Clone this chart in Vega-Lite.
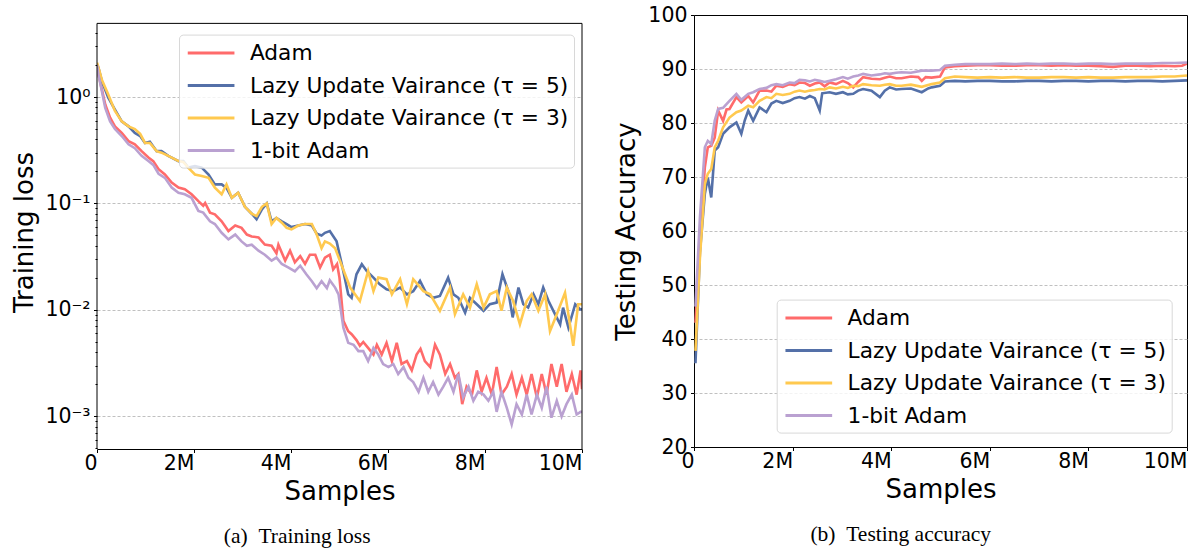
{
  "$schema": "https://vega.github.io/schema/vega-lite/v6.json",
  "padding": {"left": 11, "top": 4, "right": 0, "bottom": 0},
  "bounds": "flush",
  "spacing": 112,
  "resolve": {"scale": {"color": "independent"}, "legend": {"color": "independent"}},
  "config": {
    "font": "DejaVu Sans",
    "axis": {"labelFont": "DejaVu Sans", "labelFontSize": 20.5, "labelColor": "#000", "titleFont": "DejaVu Sans", "titleFontSize": 26, "titleFontWeight": "normal", "titleColor": "#000", "tickColor": "#000", "tickSize": 3.5, "tickWidth": 1, "labelPadding": 3.5, "domainColor": "#000", "domainWidth": 1, "gridColor": "#b0b0b0", "gridDash": [3, 2], "gridWidth": 0.8, "labelOverlap": false, "labelFlush": false},
    "legend": {"labelFont": "DejaVu Sans", "labelFontSize": 21.7, "labelColor": "#000", "labelLimit": 500, "symbolType": "M-2,0H2", "symbolSize": 545, "symbolStrokeWidth": 3, "symbolOffset": 13.6, "labelOffset": 25.3, "rowPadding": 6.5, "padding": 5, "fillColor": "rgba(255,255,255,0.8)", "strokeColor": "#d8d8d8", "cornerRadius": 4, "title": null},
    "title": {"font": "Liberation Serif", "fontSize": 21.5, "fontWeight": "normal", "color": "#000", "frame": "bounds"}
  },
  "datasets": {
    "loss": [
      {"m":"Adam","s":0,"v":2.0},{"m":"Adam","s":0.03,"v":1.63},{"m":"Adam","s":0.1,"v":1.18},{"m":"Adam","s":0.17,"v":0.85},{"m":"Adam","s":0.27,"v":0.64},{"m":"Adam","s":0.37,"v":0.53},{"m":"Adam","s":0.51,"v":0.46},{"m":"Adam","s":0.65,"v":0.385},{"m":"Adam","s":0.78,"v":0.36},{"m":"Adam","s":0.92,"v":0.31},{"m":"Adam","s":1.06,"v":0.27},{"m":"Adam","s":1.16,"v":0.25},{"m":"Adam","s":1.27,"v":0.21},{"m":"Adam","s":1.4,"v":0.187},{"m":"Adam","s":1.54,"v":0.157},{"m":"Adam","s":1.68,"v":0.141},{"m":"Adam","s":1.81,"v":0.136},{"m":"Adam","s":1.95,"v":0.122},{"m":"Adam","s":2.09,"v":0.105},{"m":"Adam","s":2.19,"v":0.095},{"m":"Adam","s":2.23,"v":0.101},{"m":"Adam","s":2.33,"v":0.082},{"m":"Adam","s":2.43,"v":0.079},{"m":"Adam","s":2.57,"v":0.068},{"m":"Adam","s":2.71,"v":0.055},{"m":"Adam","s":2.85,"v":0.062},{"m":"Adam","s":2.98,"v":0.059},{"m":"Adam","s":3.09,"v":0.051},{"m":"Adam","s":3.19,"v":0.049},{"m":"Adam","s":3.33,"v":0.048},{"m":"Adam","s":3.46,"v":0.041},{"m":"Adam","s":3.6,"v":0.04},{"m":"Adam","s":3.7,"v":0.034},{"m":"Adam","s":3.74,"v":0.041},{"m":"Adam","s":3.88,"v":0.029},{"m":"Adam","s":3.98,"v":0.036},{"m":"Adam","s":4.08,"v":0.028},{"m":"Adam","s":4.19,"v":0.032},{"m":"Adam","s":4.29,"v":0.027},{"m":"Adam","s":4.39,"v":0.033},{"m":"Adam","s":4.5,"v":0.033},{"m":"Adam","s":4.6,"v":0.025},{"m":"Adam","s":4.7,"v":0.031},{"m":"Adam","s":4.8,"v":0.033},{"m":"Adam","s":4.87,"v":0.024},{"m":"Adam","s":4.95,"v":0.027},{"m":"Adam","s":5.0,"v":0.02},{"m":"Adam","s":5.08,"v":0.0079},{"m":"Adam","s":5.18,"v":0.0063},{"m":"Adam","s":5.25,"v":0.0059},{"m":"Adam","s":5.35,"v":0.0052},{"m":"Adam","s":5.42,"v":0.0046},{"m":"Adam","s":5.49,"v":0.005},{"m":"Adam","s":5.59,"v":0.0044},{"m":"Adam","s":5.7,"v":0.0038},{"m":"Adam","s":5.77,"v":0.0047},{"m":"Adam","s":5.87,"v":0.0038},{"m":"Adam","s":5.97,"v":0.0049},{"m":"Adam","s":6.08,"v":0.0033},{"m":"Adam","s":6.18,"v":0.0049},{"m":"Adam","s":6.28,"v":0.0031},{"m":"Adam","s":6.39,"v":0.0033},{"m":"Adam","s":6.49,"v":0.0027},{"m":"Adam","s":6.59,"v":0.0038},{"m":"Adam","s":6.67,"v":0.0043},{"m":"Adam","s":6.76,"v":0.0033},{"m":"Adam","s":6.87,"v":0.0029},{"m":"Adam","s":6.97,"v":0.0047},{"m":"Adam","s":7.07,"v":0.0038},{"m":"Adam","s":7.18,"v":0.0025},{"m":"Adam","s":7.28,"v":0.0031},{"m":"Adam","s":7.38,"v":0.0023},{"m":"Adam","s":7.45,"v":0.0025},{"m":"Adam","s":7.53,"v":0.0013},{"m":"Adam","s":7.62,"v":0.0019},{"m":"Adam","s":7.73,"v":0.0016},{"m":"Adam","s":7.83,"v":0.0027},{"m":"Adam","s":7.93,"v":0.0017},{"m":"Adam","s":8.03,"v":0.0023},{"m":"Adam","s":8.14,"v":0.0016},{"m":"Adam","s":8.24,"v":0.0029},{"m":"Adam","s":8.34,"v":0.0016},{"m":"Adam","s":8.45,"v":0.0019},{"m":"Adam","s":8.55,"v":0.0025},{"m":"Adam","s":8.65,"v":0.0016},{"m":"Adam","s":8.76,"v":0.0023},{"m":"Adam","s":8.86,"v":0.0016},{"m":"Adam","s":8.96,"v":0.0025},{"m":"Adam","s":9.07,"v":0.0015},{"m":"Adam","s":9.17,"v":0.0025},{"m":"Adam","s":9.27,"v":0.0016},{"m":"Adam","s":9.37,"v":0.0031},{"m":"Adam","s":9.48,"v":0.0019},{"m":"Adam","s":9.58,"v":0.0031},{"m":"Adam","s":9.68,"v":0.0017},{"m":"Adam","s":9.79,"v":0.0025},{"m":"Adam","s":9.89,"v":0.0016},{"m":"Adam","s":9.97,"v":0.0027},{"m":"Adam","s":10,"v":0.0018},
      {"m":"t5","s":0,"v":2.0},{"m":"t5","s":0.03,"v":1.88},{"m":"t5","s":0.1,"v":1.41},{"m":"t5","s":0.23,"v":0.99},{"m":"t5","s":0.37,"v":0.76},{"m":"t5","s":0.51,"v":0.59},{"m":"t5","s":0.65,"v":0.53},{"m":"t5","s":0.78,"v":0.46},{"m":"t5","s":0.89,"v":0.43},{"m":"t5","s":0.99,"v":0.37},{"m":"t5","s":1.09,"v":0.38},{"m":"t5","s":1.23,"v":0.31},{"m":"t5","s":1.33,"v":0.31},{"m":"t5","s":1.47,"v":0.28},{"m":"t5","s":1.68,"v":0.25},{"m":"t5","s":1.78,"v":0.25},{"m":"t5","s":1.88,"v":0.217},{"m":"t5","s":2.02,"v":0.224},{"m":"t5","s":2.16,"v":0.217},{"m":"t5","s":2.3,"v":0.187},{"m":"t5","s":2.43,"v":0.151},{"m":"t5","s":2.57,"v":0.151},{"m":"t5","s":2.67,"v":0.14},{"m":"t5","s":2.78,"v":0.113},{"m":"t5","s":2.91,"v":0.126},{"m":"t5","s":3.05,"v":0.093},{"m":"t5","s":3.19,"v":0.08},{"m":"t5","s":3.29,"v":0.071},{"m":"t5","s":3.4,"v":0.088},{"m":"t5","s":3.5,"v":0.1},{"m":"t5","s":3.6,"v":0.068},{"m":"t5","s":3.7,"v":0.073},{"m":"t5","s":3.81,"v":0.068},{"m":"t5","s":3.91,"v":0.064},{"m":"t5","s":4.01,"v":0.06},{"m":"t5","s":4.15,"v":0.062},{"m":"t5","s":4.29,"v":0.064},{"m":"t5","s":4.43,"v":0.062},{"m":"t5","s":4.53,"v":0.052},{"m":"t5","s":4.63,"v":0.05},{"m":"t5","s":4.7,"v":0.053},{"m":"t5","s":4.8,"v":0.055},{"m":"t5","s":4.94,"v":0.044},{"m":"t5","s":5.08,"v":0.023},{"m":"t5","s":5.18,"v":0.014},{"m":"t5","s":5.25,"v":0.013},{"m":"t5","s":5.35,"v":0.0216},{"m":"t5","s":5.46,"v":0.0268},{"m":"t5","s":5.56,"v":0.0232},{"m":"t5","s":5.7,"v":0.0201},{"m":"t5","s":5.83,"v":0.0174},{"m":"t5","s":5.97,"v":0.0156},{"m":"t5","s":6.11,"v":0.015},{"m":"t5","s":6.25,"v":0.0162},{"m":"t5","s":6.39,"v":0.014},{"m":"t5","s":6.52,"v":0.015},{"m":"t5","s":6.66,"v":0.0187},{"m":"t5","s":6.8,"v":0.014},{"m":"t5","s":6.93,"v":0.013},{"m":"t5","s":7.07,"v":0.0135},{"m":"t5","s":7.24,"v":0.0201},{"m":"t5","s":7.35,"v":0.014},{"m":"t5","s":7.45,"v":0.013},{"m":"t5","s":7.59,"v":0.0094},{"m":"t5","s":7.69,"v":0.013},{"m":"t5","s":7.83,"v":0.0113},{"m":"t5","s":7.97,"v":0.0098},{"m":"t5","s":8.1,"v":0.0113},{"m":"t5","s":8.24,"v":0.0117},{"m":"t5","s":8.36,"v":0.0216},{"m":"t5","s":8.48,"v":0.015},{"m":"t5","s":8.57,"v":0.0085},{"m":"t5","s":8.69,"v":0.0162},{"m":"t5","s":8.79,"v":0.0113},{"m":"t5","s":8.89,"v":0.0105},{"m":"t5","s":9.0,"v":0.014},{"m":"t5","s":9.1,"v":0.0113},{"m":"t5","s":9.2,"v":0.0162},{"m":"t5","s":9.31,"v":0.0121},{"m":"t5","s":9.41,"v":0.0098},{"m":"t5","s":9.55,"v":0.0073},{"m":"t5","s":9.61,"v":0.0105},{"m":"t5","s":9.72,"v":0.0068},{"m":"t5","s":9.86,"v":0.0113},{"m":"t5","s":9.96,"v":0.0101},{"m":"t5","s":10,"v":0.0101},
      {"m":"t3","s":0,"v":2.1},{"m":"t3","s":0.03,"v":1.9},{"m":"t3","s":0.1,"v":1.45},{"m":"t3","s":0.23,"v":1.06},{"m":"t3","s":0.37,"v":0.74},{"m":"t3","s":0.51,"v":0.59},{"m":"t3","s":0.65,"v":0.53},{"m":"t3","s":0.78,"v":0.5},{"m":"t3","s":0.89,"v":0.45},{"m":"t3","s":0.99,"v":0.37},{"m":"t3","s":1.09,"v":0.37},{"m":"t3","s":1.23,"v":0.31},{"m":"t3","s":1.33,"v":0.3},{"m":"t3","s":1.47,"v":0.28},{"m":"t3","s":1.68,"v":0.25},{"m":"t3","s":1.78,"v":0.245},{"m":"t3","s":1.88,"v":0.217},{"m":"t3","s":2.02,"v":0.187},{"m":"t3","s":2.16,"v":0.181},{"m":"t3","s":2.3,"v":0.174},{"m":"t3","s":2.43,"v":0.141},{"m":"t3","s":2.57,"v":0.122},{"m":"t3","s":2.67,"v":0.151},{"m":"t3","s":2.78,"v":0.113},{"m":"t3","s":2.91,"v":0.126},{"m":"t3","s":3.05,"v":0.093},{"m":"t3","s":3.19,"v":0.08},{"m":"t3","s":3.29,"v":0.076},{"m":"t3","s":3.4,"v":0.093},{"m":"t3","s":3.5,"v":0.1},{"m":"t3","s":3.6,"v":0.064},{"m":"t3","s":3.7,"v":0.073},{"m":"t3","s":3.81,"v":0.066},{"m":"t3","s":3.91,"v":0.059},{"m":"t3","s":4.01,"v":0.057},{"m":"t3","s":4.15,"v":0.062},{"m":"t3","s":4.29,"v":0.064},{"m":"t3","s":4.43,"v":0.064},{"m":"t3","s":4.53,"v":0.051},{"m":"t3","s":4.63,"v":0.038},{"m":"t3","s":4.7,"v":0.044},{"m":"t3","s":4.8,"v":0.042},{"m":"t3","s":4.91,"v":0.038},{"m":"t3","s":5.01,"v":0.0288},{"m":"t3","s":5.22,"v":0.0162},{"m":"t3","s":5.42,"v":0.0121},{"m":"t3","s":5.59,"v":0.0232},{"m":"t3","s":5.7,"v":0.015},{"m":"t3","s":5.8,"v":0.0201},{"m":"t3","s":5.97,"v":0.0194},{"m":"t3","s":6.08,"v":0.014},{"m":"t3","s":6.25,"v":0.0194},{"m":"t3","s":6.39,"v":0.0113},{"m":"t3","s":6.52,"v":0.0194},{"m":"t3","s":6.73,"v":0.015},{"m":"t3","s":6.87,"v":0.014},{"m":"t3","s":7.07,"v":0.0098},{"m":"t3","s":7.28,"v":0.0162},{"m":"t3","s":7.38,"v":0.0091},{"m":"t3","s":7.55,"v":0.014},{"m":"t3","s":7.69,"v":0.0105},{"m":"t3","s":7.83,"v":0.0174},{"m":"t3","s":7.97,"v":0.0105},{"m":"t3","s":8.1,"v":0.014},{"m":"t3","s":8.24,"v":0.015},{"m":"t3","s":8.34,"v":0.0098},{"m":"t3","s":8.45,"v":0.0162},{"m":"t3","s":8.58,"v":0.0121},{"m":"t3","s":8.72,"v":0.0073},{"m":"t3","s":8.86,"v":0.0121},{"m":"t3","s":8.96,"v":0.014},{"m":"t3","s":9.1,"v":0.0098},{"m":"t3","s":9.24,"v":0.014},{"m":"t3","s":9.34,"v":0.0063},{"m":"t3","s":9.48,"v":0.0091},{"m":"t3","s":9.65,"v":0.0145},{"m":"t3","s":9.82,"v":0.0046},{"m":"t3","s":9.92,"v":0.0113},{"m":"t3","s":10,"v":0.0113},
      {"m":"1bit","s":0,"v":2.0},{"m":"1bit","s":0.03,"v":1.63},{"m":"1bit","s":0.1,"v":1.14},{"m":"1bit","s":0.17,"v":0.79},{"m":"1bit","s":0.27,"v":0.59},{"m":"1bit","s":0.37,"v":0.5},{"m":"1bit","s":0.51,"v":0.43},{"m":"1bit","s":0.65,"v":0.36},{"m":"1bit","s":0.78,"v":0.33},{"m":"1bit","s":0.92,"v":0.28},{"m":"1bit","s":1.06,"v":0.25},{"m":"1bit","s":1.16,"v":0.23},{"m":"1bit","s":1.27,"v":0.19},{"m":"1bit","s":1.4,"v":0.174},{"m":"1bit","s":1.54,"v":0.141},{"m":"1bit","s":1.68,"v":0.126},{"m":"1bit","s":1.81,"v":0.122},{"m":"1bit","s":1.95,"v":0.113},{"m":"1bit","s":2.09,"v":0.085},{"m":"1bit","s":2.19,"v":0.082},{"m":"1bit","s":2.33,"v":0.068},{"m":"1bit","s":2.43,"v":0.064},{"m":"1bit","s":2.57,"v":0.053},{"m":"1bit","s":2.71,"v":0.046},{"m":"1bit","s":2.85,"v":0.051},{"m":"1bit","s":2.98,"v":0.044},{"m":"1bit","s":3.09,"v":0.04},{"m":"1bit","s":3.19,"v":0.041},{"m":"1bit","s":3.33,"v":0.036},{"m":"1bit","s":3.46,"v":0.033},{"m":"1bit","s":3.6,"v":0.029},{"m":"1bit","s":3.7,"v":0.031},{"m":"1bit","s":3.81,"v":0.027},{"m":"1bit","s":3.95,"v":0.025},{"m":"1bit","s":4.08,"v":0.023},{"m":"1bit","s":4.19,"v":0.026},{"m":"1bit","s":4.32,"v":0.0215},{"m":"1bit","s":4.43,"v":0.0186},{"m":"1bit","s":4.53,"v":0.016},{"m":"1bit","s":4.63,"v":0.0186},{"m":"1bit","s":4.74,"v":0.016},{"m":"1bit","s":4.8,"v":0.019},{"m":"1bit","s":4.91,"v":0.0162},{"m":"1bit","s":4.98,"v":0.014},{"m":"1bit","s":5.08,"v":0.0068},{"m":"1bit","s":5.18,"v":0.0049},{"m":"1bit","s":5.29,"v":0.0047},{"m":"1bit","s":5.39,"v":0.0041},{"m":"1bit","s":5.49,"v":0.0041},{"m":"1bit","s":5.59,"v":0.0033},{"m":"1bit","s":5.7,"v":0.0044},{"m":"1bit","s":5.8,"v":0.0038},{"m":"1bit","s":5.9,"v":0.0031},{"m":"1bit","s":6.01,"v":0.0029},{"m":"1bit","s":6.11,"v":0.0031},{"m":"1bit","s":6.21,"v":0.0025},{"m":"1bit","s":6.32,"v":0.0029},{"m":"1bit","s":6.42,"v":0.0023},{"m":"1bit","s":6.52,"v":0.0021},{"m":"1bit","s":6.63,"v":0.0017},{"m":"1bit","s":6.73,"v":0.0023},{"m":"1bit","s":6.83,"v":0.0017},{"m":"1bit","s":6.93,"v":0.0021},{"m":"1bit","s":7.04,"v":0.0016},{"m":"1bit","s":7.14,"v":0.0019},{"m":"1bit","s":7.24,"v":0.0023},{"m":"1bit","s":7.35,"v":0.0017},{"m":"1bit","s":7.45,"v":0.0025},{"m":"1bit","s":7.55,"v":0.0015},{"m":"1bit","s":7.66,"v":0.0019},{"m":"1bit","s":7.76,"v":0.0014},{"m":"1bit","s":7.86,"v":0.0017},{"m":"1bit","s":7.97,"v":0.0016},{"m":"1bit","s":8.07,"v":0.0014},{"m":"1bit","s":8.17,"v":0.0017},{"m":"1bit","s":8.24,"v":0.0011},{"m":"1bit","s":8.34,"v":0.0017},{"m":"1bit","s":8.45,"v":0.0012},{"m":"1bit","s":8.55,"v":0.00084},{"m":"1bit","s":8.65,"v":0.0013},{"m":"1bit","s":8.76,"v":0.00104},{"m":"1bit","s":8.86,"v":0.0016},{"m":"1bit","s":8.96,"v":0.00104},{"m":"1bit","s":9.07,"v":0.0016},{"m":"1bit","s":9.17,"v":0.0012},{"m":"1bit","s":9.27,"v":0.0019},{"m":"1bit","s":9.37,"v":0.00097},{"m":"1bit","s":9.48,"v":0.0014},{"m":"1bit","s":9.58,"v":0.001},{"m":"1bit","s":9.68,"v":0.0013},{"m":"1bit","s":9.79,"v":0.0016},{"m":"1bit","s":9.89,"v":0.00104},{"m":"1bit","s":9.97,"v":0.0011},{"m":"1bit","s":10,"v":0.0011}
    ],
    "acc": [
      {"m":"Adam","s":0.03,"v":43},{"m":"Adam","s":0.12,"v":58.8},{"m":"Adam","s":0.22,"v":71.8},{"m":"Adam","s":0.28,"v":75.5},{"m":"Adam","s":0.35,"v":75.8},{"m":"Adam","s":0.42,"v":77.3},{"m":"Adam","s":0.49,"v":82.3},{"m":"Adam","s":0.59,"v":80.4},{"m":"Adam","s":0.66,"v":82.5},{"m":"Adam","s":0.72,"v":82.6},{"m":"Adam","s":0.86,"v":84.8},{"m":"Adam","s":0.96,"v":83.8},{"m":"Adam","s":1.1,"v":85},{"m":"Adam","s":1.2,"v":83.8},{"m":"Adam","s":1.33,"v":86},{"m":"Adam","s":1.47,"v":86},{"m":"Adam","s":1.57,"v":85.8},{"m":"Adam","s":1.67,"v":86.9},{"m":"Adam","s":1.8,"v":86.7},{"m":"Adam","s":1.94,"v":87.2},{"m":"Adam","s":2.04,"v":87},{"m":"Adam","s":2.14,"v":87.5},{"m":"Adam","s":2.25,"v":87.4},{"m":"Adam","s":2.35,"v":86.9},{"m":"Adam","s":2.45,"v":87.3},{"m":"Adam","s":2.55,"v":87.5},{"m":"Adam","s":2.65,"v":86.8},{"m":"Adam","s":2.75,"v":87.5},{"m":"Adam","s":2.88,"v":87.2},{"m":"Adam","s":3.02,"v":87.8},{"m":"Adam","s":3.12,"v":87.4},{"m":"Adam","s":3.23,"v":86.6},{"m":"Adam","s":3.33,"v":87.6},{"m":"Adam","s":3.43,"v":88.5},{"m":"Adam","s":3.6,"v":88.2},{"m":"Adam","s":3.77,"v":88.1},{"m":"Adam","s":3.87,"v":88.4},{"m":"Adam","s":3.97,"v":88.6},{"m":"Adam","s":4.1,"v":88.3},{"m":"Adam","s":4.21,"v":88.3},{"m":"Adam","s":4.4,"v":88.6},{"m":"Adam","s":4.55,"v":88.5},{"m":"Adam","s":4.62,"v":87.8},{"m":"Adam","s":4.7,"v":88.5},{"m":"Adam","s":4.82,"v":88.4},{"m":"Adam","s":4.99,"v":88.6},{"m":"Adam","s":5.09,"v":90.3},{"m":"Adam","s":5.29,"v":90.5},{"m":"Adam","s":5.5,"v":90.6},{"m":"Adam","s":5.75,"v":90.7},{"m":"Adam","s":6,"v":90.7},{"m":"Adam","s":6.25,"v":90.6},{"m":"Adam","s":6.5,"v":90.6},{"m":"Adam","s":6.75,"v":90.7},{"m":"Adam","s":7,"v":90.7},{"m":"Adam","s":7.25,"v":90.6},{"m":"Adam","s":7.5,"v":90.7},{"m":"Adam","s":7.75,"v":90.6},{"m":"Adam","s":8,"v":90.6},{"m":"Adam","s":8.25,"v":90.5},{"m":"Adam","s":8.5,"v":90.4},{"m":"Adam","s":8.75,"v":90.6},{"m":"Adam","s":9,"v":90.6},{"m":"Adam","s":9.25,"v":90.5},{"m":"Adam","s":9.5,"v":90.6},{"m":"Adam","s":9.75,"v":90.5},{"m":"Adam","s":9.9,"v":90.6},{"m":"Adam","s":10,"v":91},
      {"m":"t5","s":0.03,"v":35.5},{"m":"t5","s":0.12,"v":56},{"m":"t5","s":0.22,"v":66.9},{"m":"t5","s":0.28,"v":69.9},{"m":"t5","s":0.35,"v":66.2},{"m":"t5","s":0.42,"v":74.9},{"m":"t5","s":0.49,"v":75.5},{"m":"t5","s":0.59,"v":78},{"m":"t5","s":0.72,"v":79.2},{"m":"t5","s":0.86,"v":80.1},{"m":"t5","s":0.96,"v":78},{"m":"t5","s":1.03,"v":80.5},{"m":"t5","s":1.1,"v":82.3},{"m":"t5","s":1.2,"v":80.4},{"m":"t5","s":1.33,"v":82.9},{"m":"t5","s":1.47,"v":82},{"m":"t5","s":1.57,"v":83.6},{"m":"t5","s":1.67,"v":84.1},{"m":"t5","s":1.8,"v":83.7},{"m":"t5","s":1.94,"v":84.1},{"m":"t5","s":2.04,"v":84.6},{"m":"t5","s":2.14,"v":84.8},{"m":"t5","s":2.25,"v":84.5},{"m":"t5","s":2.35,"v":85},{"m":"t5","s":2.45,"v":84.6},{"m":"t5","s":2.55,"v":82.3},{"m":"t5","s":2.6,"v":85.5},{"m":"t5","s":2.75,"v":85.7},{"m":"t5","s":2.88,"v":85.4},{"m":"t5","s":3.02,"v":85.7},{"m":"t5","s":3.12,"v":85.3},{"m":"t5","s":3.23,"v":85.4},{"m":"t5","s":3.33,"v":86},{"m":"t5","s":3.43,"v":86.3},{"m":"t5","s":3.6,"v":86},{"m":"t5","s":3.77,"v":84.8},{"m":"t5","s":3.87,"v":86},{"m":"t5","s":3.97,"v":86.6},{"m":"t5","s":4.1,"v":86.2},{"m":"t5","s":4.21,"v":86.3},{"m":"t5","s":4.4,"v":86.4},{"m":"t5","s":4.62,"v":85.7},{"m":"t5","s":4.75,"v":86.4},{"m":"t5","s":4.82,"v":86.6},{"m":"t5","s":4.99,"v":86.9},{"m":"t5","s":5.09,"v":87.7},{"m":"t5","s":5.29,"v":87.8},{"m":"t5","s":5.5,"v":87.7},{"m":"t5","s":5.75,"v":87.8},{"m":"t5","s":6,"v":87.8},{"m":"t5","s":6.25,"v":87.7},{"m":"t5","s":6.5,"v":87.7},{"m":"t5","s":6.75,"v":87.8},{"m":"t5","s":7,"v":87.8},{"m":"t5","s":7.25,"v":87.7},{"m":"t5","s":7.5,"v":87.8},{"m":"t5","s":7.75,"v":87.8},{"m":"t5","s":8,"v":87.7},{"m":"t5","s":8.25,"v":87.8},{"m":"t5","s":8.5,"v":87.8},{"m":"t5","s":8.75,"v":87.7},{"m":"t5","s":9,"v":87.8},{"m":"t5","s":9.25,"v":87.8},{"m":"t5","s":9.5,"v":87.7},{"m":"t5","s":9.75,"v":87.8},{"m":"t5","s":10,"v":87.9},
      {"m":"t3","s":0.03,"v":37.8},{"m":"t3","s":0.12,"v":55},{"m":"t3","s":0.22,"v":68.7},{"m":"t3","s":0.28,"v":70.6},{"m":"t3","s":0.35,"v":71.5},{"m":"t3","s":0.42,"v":75.5},{"m":"t3","s":0.49,"v":76.7},{"m":"t3","s":0.59,"v":79.2},{"m":"t3","s":0.72,"v":81},{"m":"t3","s":0.86,"v":82},{"m":"t3","s":0.96,"v":82.3},{"m":"t3","s":1.1,"v":83.2},{"m":"t3","s":1.2,"v":82.9},{"m":"t3","s":1.33,"v":84.1},{"m":"t3","s":1.47,"v":84.8},{"m":"t3","s":1.57,"v":84.6},{"m":"t3","s":1.67,"v":85.4},{"m":"t3","s":1.8,"v":85.2},{"m":"t3","s":1.94,"v":85.4},{"m":"t3","s":2.04,"v":85.8},{"m":"t3","s":2.14,"v":86},{"m":"t3","s":2.25,"v":85.8},{"m":"t3","s":2.35,"v":86},{"m":"t3","s":2.45,"v":86.1},{"m":"t3","s":2.55,"v":86.3},{"m":"t3","s":2.65,"v":86.2},{"m":"t3","s":2.75,"v":86.6},{"m":"t3","s":2.88,"v":86.4},{"m":"t3","s":3.02,"v":86.7},{"m":"t3","s":3.12,"v":86.5},{"m":"t3","s":3.23,"v":86.9},{"m":"t3","s":3.33,"v":86.8},{"m":"t3","s":3.43,"v":87.2},{"m":"t3","s":3.6,"v":87},{"m":"t3","s":3.77,"v":86.9},{"m":"t3","s":3.87,"v":87.1},{"m":"t3","s":3.97,"v":87.2},{"m":"t3","s":4.1,"v":86.9},{"m":"t3","s":4.21,"v":86.9},{"m":"t3","s":4.4,"v":87.1},{"m":"t3","s":4.62,"v":86.7},{"m":"t3","s":4.82,"v":87.2},{"m":"t3","s":4.99,"v":87.5},{"m":"t3","s":5.09,"v":88.3},{"m":"t3","s":5.29,"v":88.6},{"m":"t3","s":5.5,"v":88.5},{"m":"t3","s":5.75,"v":88.4},{"m":"t3","s":6,"v":88.5},{"m":"t3","s":6.25,"v":88.4},{"m":"t3","s":6.5,"v":88.5},{"m":"t3","s":6.75,"v":88.4},{"m":"t3","s":7,"v":88.4},{"m":"t3","s":7.25,"v":88.5},{"m":"t3","s":7.5,"v":88.5},{"m":"t3","s":7.75,"v":88.4},{"m":"t3","s":8,"v":88.5},{"m":"t3","s":8.25,"v":88.4},{"m":"t3","s":8.5,"v":88.4},{"m":"t3","s":8.75,"v":88.5},{"m":"t3","s":9,"v":88.5},{"m":"t3","s":9.25,"v":88.5},{"m":"t3","s":9.5,"v":88.6},{"m":"t3","s":9.75,"v":88.6},{"m":"t3","s":10,"v":88.8},
      {"m":"1bit","s":0.03,"v":46},{"m":"1bit","s":0.12,"v":62.5},{"m":"1bit","s":0.22,"v":75.5},{"m":"1bit","s":0.28,"v":76.7},{"m":"1bit","s":0.35,"v":76.1},{"m":"1bit","s":0.42,"v":80.4},{"m":"1bit","s":0.49,"v":82.6},{"m":"1bit","s":0.59,"v":82.8},{"m":"1bit","s":0.72,"v":84.1},{"m":"1bit","s":0.86,"v":85.4},{"m":"1bit","s":0.96,"v":84.3},{"m":"1bit","s":1.1,"v":85.4},{"m":"1bit","s":1.2,"v":85.7},{"m":"1bit","s":1.33,"v":86.3},{"m":"1bit","s":1.47,"v":86.5},{"m":"1bit","s":1.57,"v":87},{"m":"1bit","s":1.67,"v":87.2},{"m":"1bit","s":1.8,"v":87},{"m":"1bit","s":1.94,"v":87.5},{"m":"1bit","s":2.04,"v":87.4},{"m":"1bit","s":2.14,"v":88},{"m":"1bit","s":2.25,"v":87.9},{"m":"1bit","s":2.35,"v":87.7},{"m":"1bit","s":2.45,"v":88},{"m":"1bit","s":2.55,"v":87.8},{"m":"1bit","s":2.65,"v":87.6},{"m":"1bit","s":2.75,"v":87.8},{"m":"1bit","s":2.88,"v":88.1},{"m":"1bit","s":3.02,"v":88.5},{"m":"1bit","s":3.12,"v":88.2},{"m":"1bit","s":3.23,"v":88.6},{"m":"1bit","s":3.33,"v":88.8},{"m":"1bit","s":3.43,"v":89.1},{"m":"1bit","s":3.6,"v":88.8},{"m":"1bit","s":3.77,"v":89},{"m":"1bit","s":3.87,"v":89.2},{"m":"1bit","s":3.97,"v":89.1},{"m":"1bit","s":4.1,"v":89.3},{"m":"1bit","s":4.21,"v":89.4},{"m":"1bit","s":4.4,"v":89.3},{"m":"1bit","s":4.62,"v":89.7},{"m":"1bit","s":4.82,"v":89.7},{"m":"1bit","s":4.99,"v":89.8},{"m":"1bit","s":5.09,"v":90.6},{"m":"1bit","s":5.29,"v":90.8},{"m":"1bit","s":5.5,"v":90.9},{"m":"1bit","s":5.75,"v":90.9},{"m":"1bit","s":6,"v":90.9},{"m":"1bit","s":6.25,"v":91},{"m":"1bit","s":6.5,"v":90.9},{"m":"1bit","s":6.75,"v":91},{"m":"1bit","s":7,"v":90.9},{"m":"1bit","s":7.25,"v":91},{"m":"1bit","s":7.5,"v":91},{"m":"1bit","s":7.75,"v":90.9},{"m":"1bit","s":8,"v":91},{"m":"1bit","s":8.25,"v":91},{"m":"1bit","s":8.5,"v":90.9},{"m":"1bit","s":8.75,"v":91},{"m":"1bit","s":9,"v":91},{"m":"1bit","s":9.25,"v":91},{"m":"1bit","s":9.5,"v":91.1},{"m":"1bit","s":9.75,"v":91.1},{"m":"1bit","s":10,"v":91.2}
    ]
  },
  "hconcat": [
    {
      "width": 485,
      "height": 434,
      "view": {"stroke": null},
      "title": {"text": "(a)\u00a0\u00a0Training loss", "orient": "bottom", "offset": 22},
      "layer": [
        {
          "data": {"name": "loss"},
          "mark": {"type": "line", "strokeWidth": 2.6, "clip": true},
          "encoding": {
            "x": {"field": "s", "type": "quantitative", "scale": {"domain": [0, 10], "nice": false, "zero": false},
                  "axis": {"values": [0, 2, 4, 6, 8, 10], "labelExpr": "datum.value == 0 ? '0' : datum.value + 'M'", "labelAlign": "right", "labelPadding": 1, "grid": false, "domain": true, "title": "Samples", "titlePadding": 4}},
            "y": {"field": "v", "type": "quantitative", "scale": {"type": "log", "domain": [0.000493, 5.895], "nice": false},
                  "axis": {"values": [0.0005,0.0006,0.0007,0.0008,0.0009,0.001,0.002,0.003,0.004,0.005,0.006,0.007,0.008,0.009,0.01,0.02,0.03,0.04,0.05,0.06,0.07,0.08,0.09,0.1,0.2,0.3,0.4,0.5,0.6,0.7,0.8,0.9,1,2,3,4],
                           "labelExpr": "datum.value == 1 ? '10⁰' : datum.value == 0.1 ? '10⁻¹' : datum.value == 0.01 ? '10⁻²' : datum.value == 0.001 ? '10⁻³' : ''",
                           "tickSize": {"condition": {"test": "datum.value == 1 || datum.value == 0.1 || datum.value == 0.01 || datum.value == 0.001", "value": 3.5}, "value": 2},
                           "grid": true,
                           "gridOpacity": {"condition": {"test": "datum.value == 1 || datum.value == 0.1 || datum.value == 0.01 || datum.value == 0.001", "value": 1}, "value": 0},
                           "domain": false, "title": "Training loss", "titlePadding": 7}},
            "color": {"field": "m", "type": "nominal",
                      "scale": {"domain": ["Adam", "t5", "t3", "1bit"], "range": ["#FF6B6B", "#5470A8", "#FFC94F", "#BAA1D1"]},
                      "legend": {"orient": "none", "legendX": 82, "legendY": 19.6,
                                 "labelExpr": "datum.value == 'Adam' ? 'Adam' : datum.value == 't5' ? 'Lazy Update Vairance (τ = 5)' : datum.value == 't3' ? 'Lazy Update Vairance (τ = 3)' : '1-bit Adam'"}}
          }
        },
        {
          "data": {"values": [{}]},
          "mark": {"type": "rule", "color": "#000", "strokeWidth": 1},
          "encoding": {"x": {"datum": 0, "type": "quantitative"}, "y": {"datum": 0.000493, "type": "quantitative"}, "y2": {"datum": 4.917}}
        },
        {
          "data": {"values": [{}]},
          "mark": {"type": "rule", "color": "#000", "strokeWidth": 1},
          "encoding": {"x": {"datum": 10, "type": "quantitative"}, "y": {"datum": 0.000493, "type": "quantitative"}, "y2": {"datum": 4.917}}
        },
        {
          "data": {"values": [{}]},
          "mark": {"type": "rule", "color": "#000", "strokeWidth": 1},
          "encoding": {"y": {"datum": 4.917, "type": "quantitative"}, "x": {"datum": 0, "type": "quantitative"}, "x2": {"datum": 10}}
        }
      ]
    },
    {
      "width": 493,
      "height": 432,
      "view": {"stroke": "#000", "strokeWidth": 1},
      "title": {"text": "(b)\u00a0\u00a0Testing accuracy", "orient": "bottom", "offset": 22},
      "data": {"name": "acc"},
      "mark": {"type": "line", "strokeWidth": 2.6, "clip": true},
      "encoding": {
        "x": {"field": "s", "type": "quantitative", "scale": {"domain": [0, 10], "nice": false, "zero": false},
              "axis": {"values": [0, 2, 4, 6, 8, 10], "labelExpr": "datum.value == 0 ? '0' : datum.value + 'M'", "labelAlign": "right", "labelPadding": 1, "grid": false, "domain": false, "title": "Samples", "titlePadding": 4}},
        "y": {"field": "v", "type": "quantitative", "scale": {"domain": [20, 100], "nice": false, "zero": false},
              "axis": {"values": [20, 30, 40, 50, 60, 70, 80, 90, 100], "grid": true,
                       "gridOpacity": {"condition": {"test": "datum.value == 20 || datum.value == 100", "value": 0}, "value": 1},
                       "domain": false, "title": "Testing Accuracy", "titlePadding": 8}},
        "color": {"field": "m", "type": "nominal",
                  "scale": {"domain": ["Adam", "t5", "t3", "1bit"], "range": ["#FF6B6B", "#5470A8", "#FFC94F", "#BAA1D1"]},
                  "legend": {"orient": "none", "legendX": 82.7, "legendY": 284.6,
                             "labelExpr": "datum.value == 'Adam' ? 'Adam' : datum.value == 't5' ? 'Lazy Update Vairance (τ = 5)' : datum.value == 't3' ? 'Lazy Update Vairance (τ = 3)' : '1-bit Adam'"}}
      }
    }
  ]
}
